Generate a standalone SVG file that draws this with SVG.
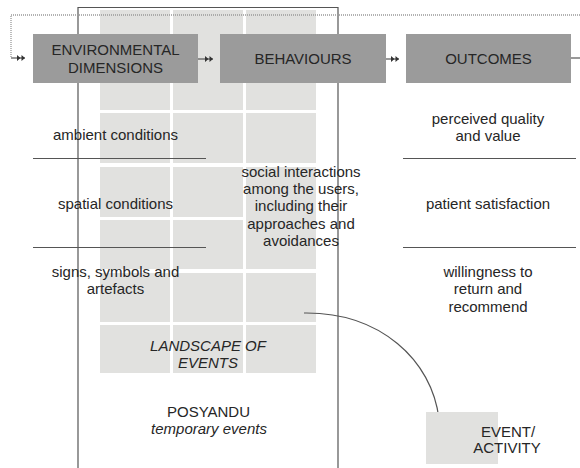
<svg xmlns="http://www.w3.org/2000/svg" width="580" height="468" viewBox="0 0 580 468">
<style>
.cell{fill:#e1e1df}
.hdr{fill:#9b9b9b}
.t{font-family:"Liberation Sans",Arial,sans-serif;font-size:15px;fill:#262626;text-anchor:middle}
.ti{font-style:italic}
.ln{stroke:#555;stroke-width:1.2;fill:none}
.dot{stroke:#999;stroke-width:1.3;stroke-dasharray:1,1;fill:none}
</style>
<defs>
<marker id="dbl" markerUnits="userSpaceOnUse" markerWidth="9" markerHeight="7" refX="8" refY="3.5" orient="auto">
<path d="M0,0.5 L3.5,3.5 L0,6.5 Z M4.5,0.5 L8,3.5 L4.5,6.5 Z" fill="#333"/>
</marker>
</defs>
<rect width="580" height="468" fill="#fff"/>
<g id="grid">
<rect class="cell" x="100" y="10" width="70" height="100"/>
<rect class="cell" x="173" y="10" width="70" height="100"/>
<rect class="cell" x="246" y="10" width="70" height="100"/>
<rect class="cell" x="100" y="113" width="70" height="50"/>
<rect class="cell" x="173" y="113" width="70" height="50"/>
<rect class="cell" x="246" y="113" width="70" height="50"/>
<rect class="cell" x="100" y="167" width="70" height="50"/>
<rect class="cell" x="173" y="167" width="70" height="50"/>
<rect class="cell" x="246" y="167" width="70" height="102"/>
<rect class="cell" x="100" y="220" width="70" height="49"/>
<rect class="cell" x="173" y="220" width="70" height="49"/>
<rect class="cell" x="100" y="273" width="70" height="49"/>
<rect class="cell" x="173" y="273" width="70" height="49"/>
<rect class="cell" x="246" y="273" width="70" height="49"/>
<rect class="cell" x="100" y="325" width="70" height="48"/>
<rect class="cell" x="173" y="325" width="70" height="48"/>
<rect class="cell" x="246" y="325" width="70" height="48"/>
</g>
<g id="frame">
<path class="ln" d="M78,468 V7.5 H338 V468"/>
</g>
<g id="connectors">
<path class="dot" d="M580,15 H11 V57"/>
<path class="ln" d="M11,58 H25" marker-end="url(#dbl)"/>
<path class="ln" d="M198,59 H213" marker-end="url(#dbl)"/>
<path class="ln" d="M386,59 H399" marker-end="url(#dbl)"/>
<path class="ln" d="M571,58 H580"/>
<path class="ln" d="M304,313 C380,312 432,360 439,419"/>
</g>
<g id="environmental-dimensions">
<rect class="hdr" x="33" y="34" width="165" height="49"/>
<text class="t" x="115.5" y="55">ENVIRONMENTAL</text>
<text class="t" x="115.5" y="73">DIMENSIONS</text>
</g>
<g id="behaviours">
<rect class="hdr" x="220" y="34" width="166" height="49"/>
<text class="t" x="303" y="64">BEHAVIOURS</text>
</g>
<g id="outcomes">
<rect class="hdr" x="406" y="34" width="165" height="49"/>
<text class="t" x="488.5" y="64">OUTCOMES</text>
</g>
<g id="dividers">
<path class="ln" d="M33,158.5 H206 M33,247.5 H206 M403,158.5 H576 M403,247.5 H576"/>
</g>
<g id="ambient"><text class="t" x="115.5" y="140">ambient conditions</text></g>
<g id="spatial"><text class="t" x="115.5" y="209">spatial conditions</text></g>
<g id="signs"><text class="t" x="115.5" y="276.5">signs, symbols and</text><text class="t" x="115.5" y="294">artefacts</text></g>
<g id="social">
<text class="t" x="301" y="176.5">social interactions</text>
<text class="t" x="301" y="194">among the users,</text>
<text class="t" x="301" y="211">including their</text>
<text class="t" x="301" y="228.5">approaches and</text>
<text class="t" x="301" y="246">avoidances</text>
</g>
<g id="perceived"><text class="t" x="488" y="124">perceived quality</text><text class="t" x="488" y="141">and value</text></g>
<g id="satisfaction"><text class="t" x="488" y="209">patient satisfaction</text></g>
<g id="willingness"><text class="t" x="488" y="276.5">willingness to</text><text class="t" x="488" y="294">return and</text><text class="t" x="488" y="311.5">recommend</text></g>
<g id="landscape"><text class="t ti" x="208" y="351">LANDSCAPE OF</text><text class="t ti" x="208" y="368">EVENTS</text></g>
<g id="posyandu"><text class="t" x="208.5" y="417">POSYANDU</text><text class="t ti" x="209" y="434">temporary events</text></g>
<g id="event-activity">
<rect class="cell" x="426" y="412" width="72" height="52"/>
<text class="t" x="508" y="437">EVENT/</text>
<text class="t" x="507" y="453">ACTIVITY</text>
</g>
</svg>
